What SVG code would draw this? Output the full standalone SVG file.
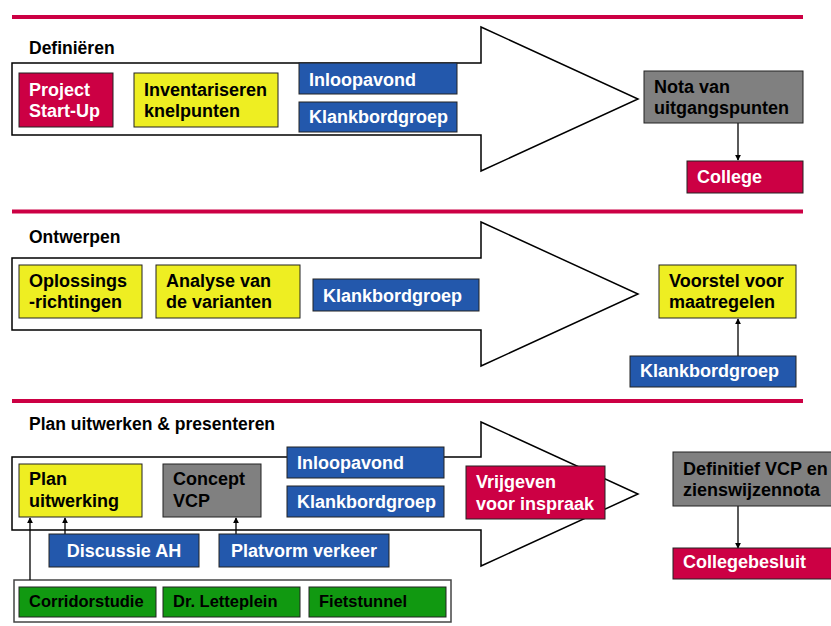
<svg xmlns="http://www.w3.org/2000/svg" width="831" height="626" viewBox="0 0 831 626">
<defs>
<marker id="ah" viewBox="0 0 8 8" refX="7" refY="4" markerWidth="6" markerHeight="6" orient="auto" markerUnits="userSpaceOnUse"><path d="M0,0 L8,4 L0,8 Z" fill="#000"/></marker>
<style>
.rule{fill:#CC0044}
.big{fill:#fff;stroke:#000;stroke-width:1.5}
.red{fill:#CC0044;stroke:#222;stroke-width:1}
.yel{fill:#EEEE22;stroke:#222;stroke-width:1}
.blu{fill:#2358AC;stroke:#222;stroke-width:1}
.gry{fill:#808080;stroke:#222;stroke-width:1}
.grn{fill:#119911;stroke:#222;stroke-width:1}
.frame{fill:#fff;stroke:#444;stroke-width:1.5}
text{font-family:"Liberation Sans",Arial,sans-serif;font-weight:bold;font-size:18px}
.t{font-size:17.5px;fill:#000}
.w{fill:#fff}
.k{fill:#000}
.g{font-size:16.5px}
.c{stroke:#000;stroke-width:1.3;fill:none;marker-end:url(#ah)}
</style>
</defs>
<rect class="rule" x="12" y="15" width="791" height="4"/>
<rect class="rule" x="12" y="209.5" width="791" height="4"/>
<rect class="rule" x="12" y="399" width="791" height="4"/>

<text class="t" x="29" y="54">Definiëren</text>
<text class="t" x="29" y="243">Ontwerpen</text>
<text class="t" x="29" y="430">Plan uitwerken &amp; presenteren</text>

<path class="big" d="M12,63 H481 V27 L638,99 L481,171 V135 H12 Z"/>
<path class="big" d="M12,258 H481 V222 L638,294 L481,366 V330 H12 Z"/>
<path class="big" d="M12,457 H481 V422 L638,494 L481,566 V530 H12 Z"/>
<rect class="frame" x="14" y="580" width="437" height="42"/>

<g id="connectors">
<line class="c" x1="738" y1="123" x2="738" y2="160"/>
<line class="c" x1="738" y1="356" x2="738" y2="319"/>
<line class="c" x1="738" y1="506" x2="738" y2="548"/>
<line class="c" x1="65" y1="534" x2="65" y2="518"/>
<line class="c" x1="236" y1="534" x2="236" y2="518"/>
<line class="c" x1="30" y1="580" x2="30" y2="518"/>
</g>

<g id="project-startup"><rect class="red" x="19" y="73" width="94" height="54"/><text class="w" x="29" y="96">Project</text><text class="w" x="29" y="117">Start-Up</text></g>
<g id="inventariseren"><rect class="yel" x="134" y="73" width="144" height="54"/><text class="k" x="144" y="96">Inventariseren</text><text class="k" x="144" y="117">knelpunten</text></g>
<g id="inloopavond-1"><rect class="blu" x="299" y="63" width="158" height="31"/><text class="w" x="309" y="86">Inloopavond</text></g>
<g id="klankbordgroep-1"><rect class="blu" x="299" y="102" width="158" height="30"/><text class="w" x="309" y="123">Klankbordgroep</text></g>
<g id="nota"><rect class="gry" x="644" y="71" width="159" height="52"/><text class="k" x="654" y="93">Nota van</text><text class="k" x="654" y="114">uitgangspunten</text></g>
<g id="college"><rect class="red" x="687" y="161" width="116" height="32"/><text class="w" x="697" y="183">College</text></g>

<g id="oplossings"><rect class="yel" x="19" y="265" width="123" height="53"/><text class="k" x="29" y="287">Oplossings</text><text class="k" x="29" y="308">-richtingen</text></g>
<g id="analyse"><rect class="yel" x="156" y="265" width="144" height="53"/><text class="k" x="166" y="287">Analyse van</text><text class="k" x="166" y="308">de varianten</text></g>
<g id="klankbordgroep-2"><rect class="blu" x="313" y="279" width="166" height="32"/><text class="w" x="323" y="302">Klankbordgroep</text></g>
<g id="voorstel"><rect class="yel" x="659" y="265" width="137" height="53"/><text class="k" x="669" y="287">Voorstel voor</text><text class="k" x="669" y="308">maatregelen</text></g>
<g id="klankbordgroep-3"><rect class="blu" x="630" y="356" width="166" height="31"/><text class="w" x="640" y="377">Klankbordgroep</text></g>

<g id="plan-uitwerking"><rect class="yel" x="19" y="464" width="123" height="53"/><text class="k" x="29" y="485">Plan</text><text class="k" x="29" y="507">uitwerking</text></g>
<g id="concept-vcp"><rect class="gry" x="163" y="464" width="98" height="53"/><text class="k" x="173" y="485">Concept</text><text class="k" x="173" y="507">VCP</text></g>
<g id="inloopavond-3"><rect class="blu" x="287" y="447" width="157" height="31"/><text class="w" x="297" y="469">Inloopavond</text></g>
<g id="klankbordgroep-4"><rect class="blu" x="287" y="486" width="157" height="31"/><text class="w" x="297" y="508">Klankbordgroep</text></g>
<g id="vrijgeven"><rect class="red" x="466" y="466" width="139" height="53"/><text class="w" x="476" y="488">Vrijgeven</text><text class="w" x="476" y="510">voor inspraak</text></g>
<g id="definitief"><rect class="gry" x="673" y="452" width="160" height="54"/><text class="k" x="683" y="475">Definitief VCP en</text><text class="k" x="683" y="496">zienswijzennota</text></g>
<g id="collegebesluit"><rect class="red" x="673" y="548" width="160" height="31"/><text class="w" x="683" y="568">Collegebesluit</text></g>
<g id="discussie"><rect class="blu" x="49" y="534" width="150" height="33"/><text class="w" x="124" y="557" text-anchor="middle">Discussie AH</text></g>
<g id="platvorm"><rect class="blu" x="219" y="534" width="170" height="33"/><text class="w" x="304" y="557" text-anchor="middle">Platvorm verkeer</text></g>
<g id="corridorstudie"><rect class="grn" x="19" y="587" width="137" height="30"/><text class="k g" x="29" y="607">Corridorstudie</text></g>
<g id="letteplein"><rect class="grn" x="163" y="587" width="137" height="30"/><text class="k g" x="173" y="607">Dr. Letteplein</text></g>
<g id="fietstunnel"><rect class="grn" x="309" y="587" width="137" height="30"/><text class="k g" x="319" y="607">Fietstunnel</text></g>
</svg>
